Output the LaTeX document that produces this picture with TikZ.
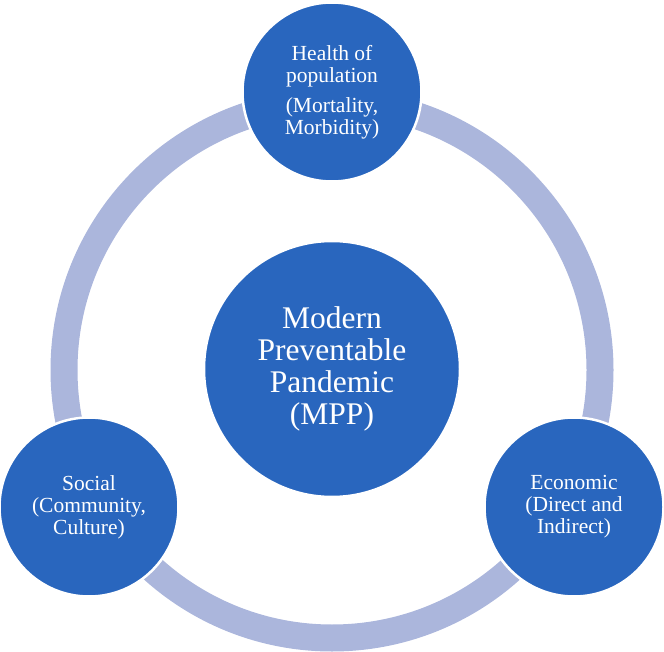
\documentclass[tikz,border=0pt]{standalone}
\usepackage{fontspec}
\setmainfont{Liberation Serif}
\usetikzlibrary{positioning}
\definecolor{mppblue}{RGB}{41,102,190}
\definecolor{ringlilac}{RGB}{171,182,220}
\tikzset{
    mppcircle/.style={circle, fill=mppblue, draw=white, line width=2.5pt, text=white, align=center, inner sep=0pt, minimum size=#1},
    mppsmall/.style={mppcircle=179pt, font=\fontsize{21.5}{22}\selectfont},
    mpphub/.style={mppcircle=256pt, font=\fontsize{31.5}{32}\selectfont},
    mppring/.style={draw=ringlilac, line width=27pt}
}

\begin{document}
\begin{tikzpicture}[x=1pt, y=-1pt]

\useasboundingbox (0,0) rectangle (664,652);
\coordinate (ringc) at (332,370);
\draw[mppring] (ringc) circle[radius=268pt];

\node[mpphub] (hub) at (332,369) {Modern\\Preventable\\Pandemic\\(MPP)};
\node[mppsmall] (health) at (332,92) {Health of\\population\\[8pt](Mortality,\\Morbidity)};
\node[mppsmall] (social) at (89,507) {Social\\(Community,\\Culture)};
\node[mppsmall] (econ) at (574,507) {Economic\\(Direct and\\Indirect)};

\end{tikzpicture}
\end{document}
